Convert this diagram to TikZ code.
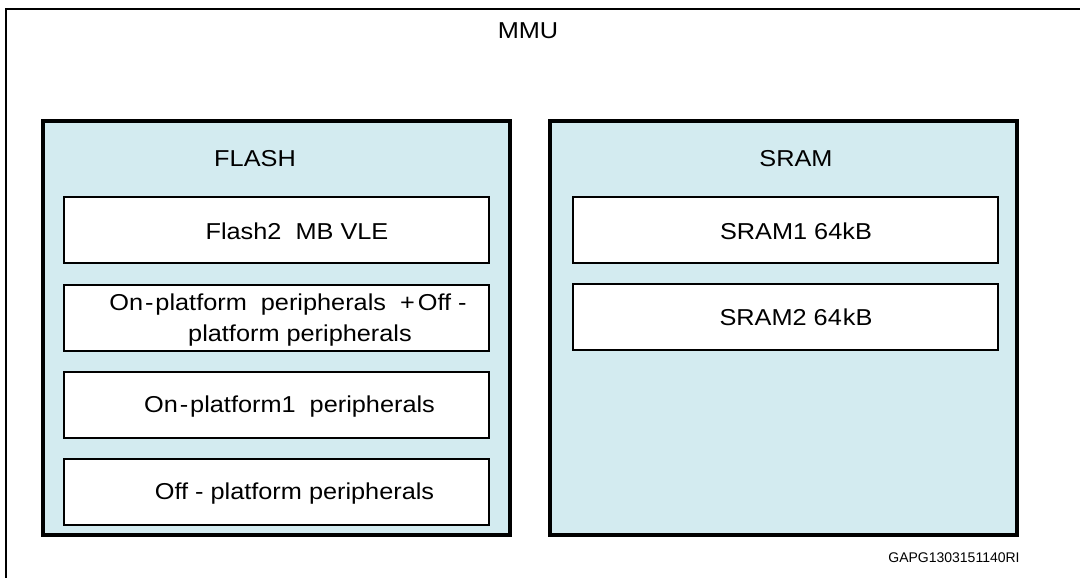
\documentclass[tikz,border=0pt]{standalone}
\usepackage{fontspec}
\setmainfont{Liberation Sans}[FakeStretch=1.1]
\newfontfamily\refcodefont{Liberation Sans}
\definecolor{memblue}{RGB}{211,235,240}
\begin{document}
\begin{tikzpicture}[x=1pt,y=-1pt,
  region/.style={draw=black, line width=3.2pt, fill=memblue, rectangle,
    inner sep=0pt, outer sep=0pt, anchor=north west,
    minimum width=467pt, minimum height=414pt},
  slot/.style={draw=black, line width=2.9pt, fill=white, rectangle,
    inner sep=0pt, outer sep=0pt, anchor=north west,
    minimum width=425pt, minimum height=66pt},
  lbl/.style={font=\fontsize{23}{31}\selectfont, inner sep=0pt, anchor=base, align=center},
  codelbl/.style={font=\refcodefont\fontsize{14}{16}\selectfont, inner sep=0pt, anchor=base}]
  \useasboundingbox (0,0) rectangle (1080,578);

  % outer MMU frame (open towards the right and the bottom)
  \coordinate (frameTR) at (1080,9);
  \coordinate (frameTL) at (6,9);
  \coordinate (frameBL) at (6,578);
  \draw[line width=2.6pt] (frameTR) -- (frameTL) -- (frameBL);
  \node[lbl] (mmu) at (528,39) {MMU};

  % FLASH region
  \node[region] (flash) at (43,121) {};
  \node[lbl] (flashlbl) at (255,166.5) {FLASH};
  \node[slot] (f1) at (64,197) {};
  \node[slot] (f2) at (64,285) {};
  \node[slot] (f3) at (64,372) {};
  \node[slot] (f4) at (64,459) {};
  \node[lbl] (f1t) at (297,239) {Flash2\ \ MB VLE};
  \node[lbl] (f2t) at (288,310) {On\kern2pt-\kern2pt platform\ \ peripherals\ \ +\kern3pt Off -};
  \node[lbl] (f2u) at (300,341) {platform peripherals};
  \node[lbl] (f3t) at (289.5,412) {On\kern2pt-\kern2pt platform1\ \ peripherals};
  \node[lbl] (f4t) at (294.5,499.5) {Off - platform peripherals};

  % SRAM region
  \node[region] (sram) at (550,121) {};
  \node[lbl] (sramlbl) at (796,166.5) {SRAM};
  \node[slot] (s1) at (573,197) {};
  \node[slot] (s2) at (573,284) {};
  \node[lbl] (s1t) at (796,239) {SRAM1 64kB};
  \node[lbl] (s2t) at (796,325) {SRAM2 64\kern1pt kB};

  % drawing reference code
  \node[codelbl] (code) at (954,562) {GAPG1303151140RI};
\end{tikzpicture}
\end{document}
